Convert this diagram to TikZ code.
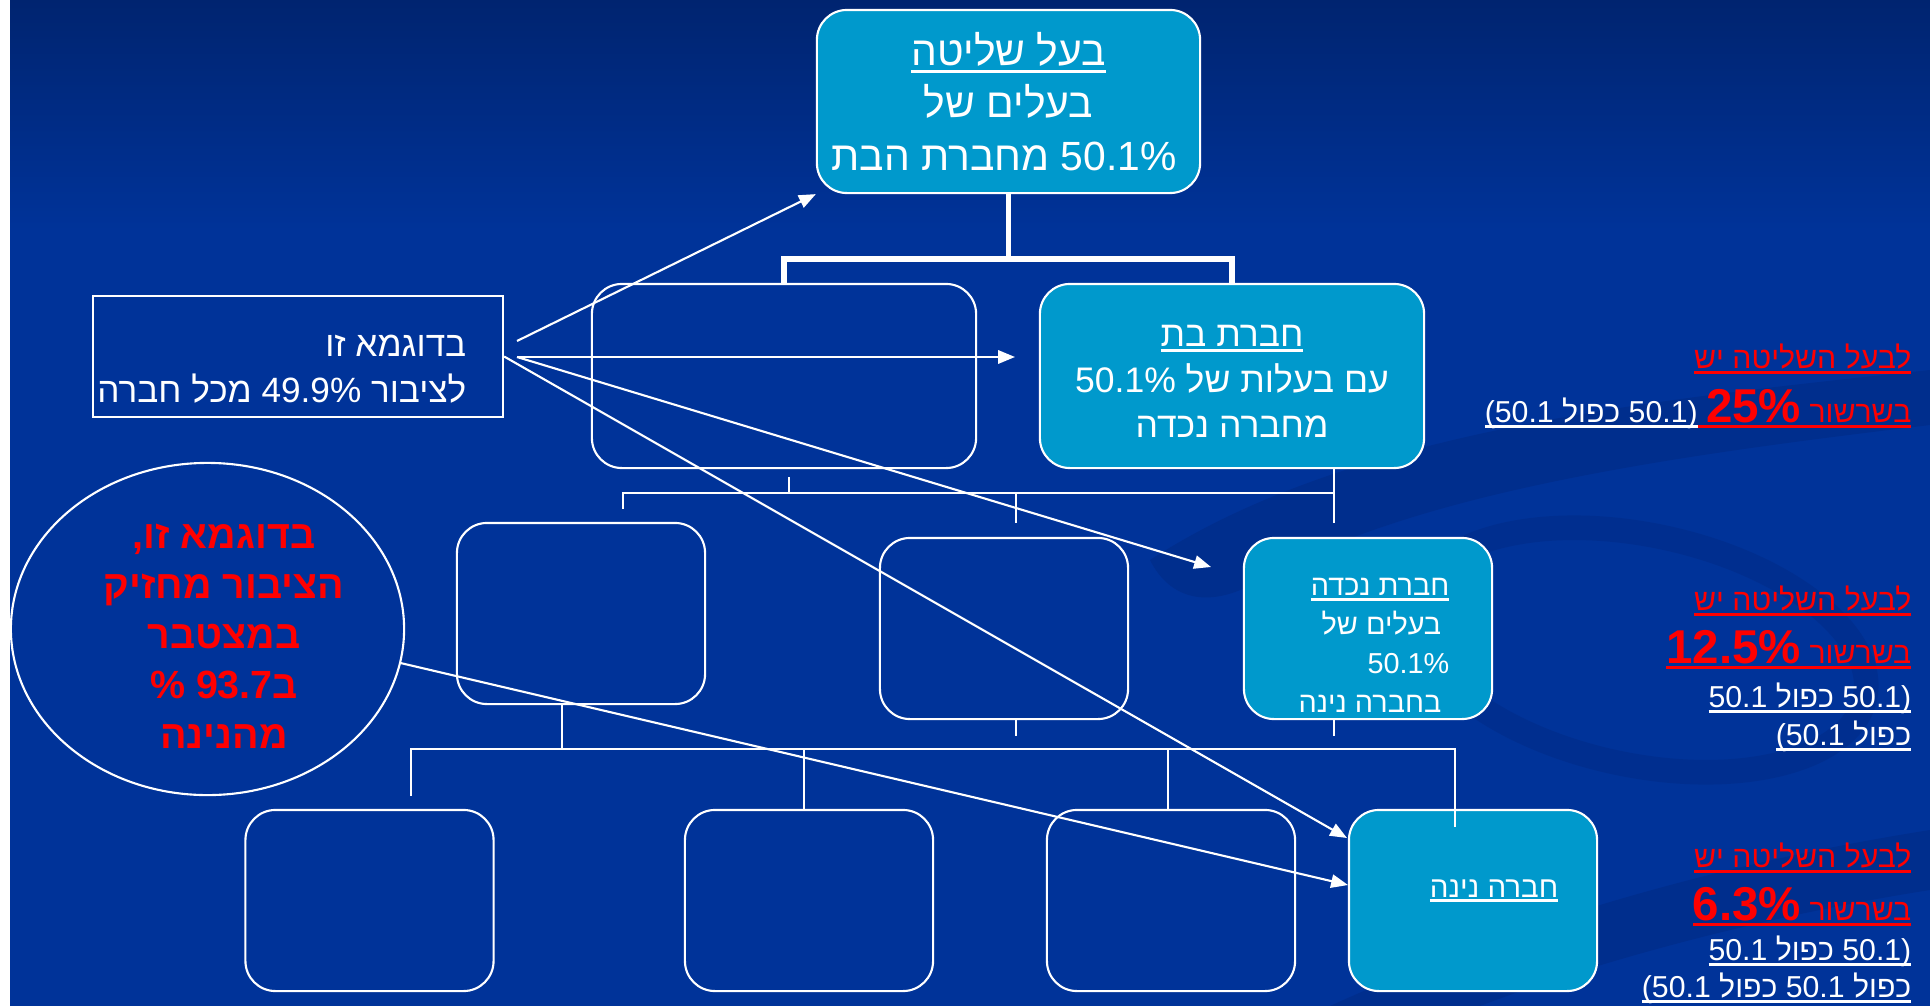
\documentclass[tikz,border=0pt]{standalone}
\usepackage{fontspec}
\setmainfont{Liberation Sans}
\newfontfamily\hebfont[Script=Hebrew]{Liberation Sans}
\TeXXeTstate=1
\usetikzlibrary{arrows.meta,shapes.geometric}

\definecolor{slidebg}{RGB}{0,51,153}
\definecolor{slidetop}{RGB}{0,36,112}
\definecolor{firmblue}{RGB}{0,153,204}
\definecolor{swirl}{RGB}{0,40,128}

\newcommand{\heb}[1]{{\hebfont\beginR #1\endR}}
\newsavebox{\ulbox}
\newcommand{\undl}[2][1.6pt]{\sbox{\ulbox}{#2}\rlap{\rule[-#1]{\wd\ulbox}{0.8pt}}\usebox{\ulbox}}

\begin{document}
\begin{tikzpicture}[x=0.01cm, y=-0.01cm]
    \tikzstyle{firm}=[draw=white, line width=0.6pt, rounded corners=0.3cm, minimum width=2.48cm, minimum height=1.81cm, inner sep=0pt]
    \tikzstyle{parent firm}=[firm, minimum width=3.84cm, minimum height=1.84cm]
    \tikzstyle{held}=[fill=firmblue, text=white]
    \tikzstyle{trunk}=[white, line width=1.5pt]
    \tikzstyle{twig}=[white, line width=0.6pt]
    \tikzstyle{pointer}=[white, line width=0.6pt, -{Triangle[length=4.8pt,width=3.8pt]}]
    \tikzstyle{notetext}=[inner sep=0pt, anchor=base east]

    % Draw the slide background
    \useasboundingbox (0,0) rectangle (1930,1006);
    \fill[white] (0,0) rectangle (10,1006);
    \fill[slidebg] (10,0) rectangle (1930,1006);
    \shade[top color=slidetop, bottom color=slidebg] (10,0) rectangle (1930,230);
    \fill[swirl, opacity=0.45] (1150,560) .. controls (1350,430) and (1650,400) .. (1930,370) -- (1930,425) .. controls (1680,455) and (1420,490) .. (1260,580) .. controls (1210,610) and (1170,600) .. (1150,560) -- cycle;
    \draw[swirl, opacity=0.4, line width=7pt, rotate around={-12:(1640,650)}] (1640,650) ellipse (230 and 115);
    \fill[swirl, opacity=0.45] (1330,1006) .. controls (1530,915) and (1740,860) .. (1930,830) -- (1930,890) .. controls (1770,915) and (1600,960) .. (1480,1006) -- cycle;

    % Draw the companies
    \node[parent firm, held, align=center, font=\fontsize{11.6}{14.9}\selectfont, minimum width=3.83cm, minimum height=1.83cm] (ctrl) at (1008.5,101.5)
        {\undl[2pt]{\heb{בעל שליטה}}\\ \heb{בעלים של}\\ \heb{מחברת הבת} 50.1\%\kern2.5pt};
    \node[parent firm] (blankA) at (784,376) {};
    \node[parent firm, held, align=center, font=\fontsize{10.1}{13}\selectfont] (sub) at (1232,376)
        {\rule{0pt}{9.2pt}\undl{\heb{חברת בת}}\\ 50.1\% \heb{עם בעלות של}\\ \heb{מחברה נכדה}};

    \node[firm] (blankC) at (581,613.5) {};
    \node[firm] (blankD) at (1004,628.5) {};
    \node[firm, held] (grand) at (1368,628.5) {};

    \node[firm] (blankF) at (369.5,900.5) {};
    \node[firm] (blankG) at (809,900.5) {};
    \node[firm] (blankH) at (1171,900.5) {};
    \node[firm, held] (great) at (1473,900.5) {};

    % Texts of the lower companies
    \node[notetext, text=white, align=right, font=\fontsize{8.2}{11}\selectfont] (grandtext) at (1450,712)
        {\undl[1.4pt]{\heb{חברת נכדה}}\\ \heb{בעלים של}\kern2.3pt\\ 50.1\%\\ \heb{בחברה נינה}\kern2.3pt};
    \node[notetext, text=white, font=\fontsize{8.4}{10}\selectfont] (greattext) at (1559,897)
        {\undl[1.4pt]{\heb{חברה נינה}}};

    % The public and its share
    \node[draw=white, line width=0.6pt, minimum width=4.1cm, minimum height=1.21cm] (pub) at (298,356.5) {};
    \node[notetext, text=white, align=right, font=\fontsize{10}{12.8}\selectfont] (pubtext) at (467,402)
        {\heb{בדוגמא זו}\\ \heb{מכל חברה} 49.9\% \heb{לציבור}};

    \node[draw=white, line width=0.6pt, ellipse, minimum width=3.93cm, minimum height=3.32cm, inner sep=0pt] (circ) at (207.5,629) {};
    \node[inner sep=0pt, anchor=base, align=center, text=red, font=\bfseries\fontsize{11.2}{14.2}\selectfont] (circtext) at (224,748)
        {,\heb{בדוגמא זו}\\ \heb{הציבור מחזיק}\\ \heb{במצטבר}\\ \%~93.7\heb{ב}\\ \heb{מהנינה}};

    % Chain percentages on the right
    \node[notetext, text=red, font=\fontsize{8.6}{10}\selectfont] (chainA) at (1912,368) {\undl{\heb{לבעל השליטה יש}}};
    \node[notetext, font=\fontsize{8.6}{10}\selectfont] (chainAb) at (1912,422)
        {\textcolor{white}{\undl{(50.1 \heb{כפול} 50.1)}}\textcolor{red}{\undl{\ {\bfseries\fontsize{13.5}{16}\selectfont 25\%} \heb{בשרשור}}}};

    \node[notetext, text=red, font=\fontsize{8.6}{10}\selectfont] (chainB) at (1912,610) {\undl{\heb{לבעל השליטה יש}}};
    \node[notetext, text=red, font=\fontsize{8.6}{10}\selectfont] (chainBb) at (1912,663)
        {\undl{{\bfseries\fontsize{13.5}{16}\selectfont 12.5\%} \heb{בשרשור}}};
    \node[notetext, text=white, font=\fontsize{8.6}{10}\selectfont] (chainBc) at (1912,707) {\undl{50.1 \heb{כפול} 50.1)}};
    \node[notetext, text=white, font=\fontsize{8.6}{10}\selectfont] (chainBd) at (1912,745) {\undl{(50.1 \heb{כפול}}};

    \node[notetext, text=red, font=\fontsize{8.6}{10}\selectfont] (chainC) at (1912,867) {\undl{\heb{לבעל השליטה יש}}};
    \node[notetext, text=red, font=\fontsize{8.6}{10}\selectfont] (chainCb) at (1912,920)
        {\undl{{\bfseries\fontsize{13.5}{16}\selectfont 6.3\%} \heb{בשרשור}}};
    \node[notetext, text=white, font=\fontsize{8.6}{10}\selectfont] (chainCc) at (1912,960) {\undl{50.1 \heb{כפול} 50.1)}};
    \node[notetext, text=white, font=\fontsize{8.6}{10}\selectfont] (chainCd) at (1912,997) {\undl{(50.1 \heb{כפול} 50.1 \heb{כפול}}};

    % Connect the controlling owner with the second tier
    \draw[trunk] (ctrl.south) -- ++(0,65) coordinate (fork);
    \draw[trunk] (blankA.north) |- (fork) -| (sub.north);

    % Connect the second tier with the third tier
    \coordinate (busL) at (623,493);
    \coordinate (busR) at (1334,493);
    \draw[twig] (busR |- sub.south) -- (busR) -- (busL) -- ++(0,16);
    \draw[twig] (busR) -- ++(0,30);
    \draw[twig] (789,477) -- (789,493);
    \draw[twig] (1016,493) -- (1016,523);

    % Connect the third tier with the fourth tier
    \coordinate (bus2L) at (411,749);
    \coordinate (bus2R) at (1455,749);
    \draw[twig] (562,704) -- (562,749);
    \draw[twig] (bus2L) ++(0,47) -- (bus2L) -- (bus2R) -- ++(0,78);
    \draw[twig] (804,749) -- (804,810);
    \draw[twig] (1168,749) -- (1168,810);
    \draw[twig] (1016,720) -- (1016,736);
    \draw[twig] (1334,720) -- (1334,736);

    % Arrows from the public holdings
    \coordinate (pubA) at (517,341);
    \coordinate (pubB) at (517,357);
    \coordinate (tipSub) at (1015,357);
    \coordinate (tipGrand) at (1211,567);
    \coordinate (tipGreatA) at (1347,838);
    \coordinate (tipGreatB) at (1348,885);
    \draw[pointer] (pubA) -- (ctrl.south west);
    \draw[pointer] (pubB) -- (tipSub);
    \draw[pointer] (pubB) -- (tipGrand);
    \draw[pointer] (pub.east) -- (tipGreatA);
    \draw[pointer] (circ.-10) -- (tipGreatB);
\end{tikzpicture}
\end{document}
